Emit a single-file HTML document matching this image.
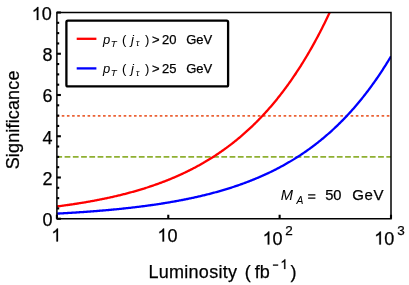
<!DOCTYPE html>
<html><head><meta charset="utf-8"><style>
html,body{margin:0;padding:0;background:#fff;}
body{width:409px;height:285px;overflow:hidden;}
svg{display:block;will-change:transform;}
text{font-family:"Liberation Sans",sans-serif;fill:#000;stroke:#000;stroke-width:0.25px;}
.i{font-style:italic;stroke-width:0.05px;}
.n{stroke-width:0.05px;}
</style></head><body>
<svg width="409" height="285" viewBox="0 0 409 285">
<defs><clipPath id="c"><rect x="56.9" y="12.5" width="334.1" height="206.25"/></clipPath></defs>
<rect width="409" height="285" fill="#fff"/>

<line x1="56.9" x2="391.0" y1="115.78" y2="115.78" stroke="#eb6235" stroke-width="1.8" stroke-dasharray="2.6,2.559" stroke-dashoffset="0.3"/>
<line x1="56.9" x2="391.0" y1="156.88" y2="156.88" stroke="#8fb032" stroke-width="1.9" stroke-dasharray="5.75,2.5" stroke-dashoffset="0.55"/>
<g clip-path="url(#c)" fill="none" stroke-width="2.3" stroke-linejoin="round">
<path d="M56.90,206.46 L57.74,206.35 L58.57,206.24 L59.41,206.13 L60.24,206.03 L61.08,205.92 L61.91,205.80 L62.75,205.69 L63.58,205.58 L64.42,205.46 L65.25,205.35 L66.09,205.23 L66.92,205.12 L67.76,205.00 L68.59,204.88 L69.43,204.76 L70.26,204.64 L71.10,204.51 L71.93,204.39 L72.77,204.27 L73.61,204.14 L74.44,204.01 L75.28,203.89 L76.11,203.76 L76.95,203.63 L77.78,203.50 L78.62,203.36 L79.45,203.23 L80.29,203.10 L81.12,202.96 L81.96,202.82 L82.79,202.68 L83.63,202.55 L84.46,202.40 L85.30,202.26 L86.13,202.12 L86.97,201.98 L87.80,201.83 L88.64,201.68 L89.47,201.54 L90.31,201.39 L91.15,201.24 L91.98,201.08 L92.82,200.93 L93.65,200.78 L94.49,200.62 L95.32,200.46 L96.16,200.30 L96.99,200.14 L97.83,199.98 L98.66,199.82 L99.50,199.66 L100.33,199.49 L101.17,199.32 L102.00,199.16 L102.84,198.99 L103.67,198.81 L104.51,198.64 L105.34,198.47 L106.18,198.29 L107.02,198.11 L107.85,197.93 L108.69,197.75 L109.52,197.57 L110.36,197.39 L111.19,197.20 L112.03,197.02 L112.86,196.83 L113.70,196.64 L114.53,196.45 L115.37,196.25 L116.20,196.06 L117.04,195.86 L117.87,195.66 L118.71,195.46 L119.54,195.26 L120.38,195.06 L121.21,194.85 L122.05,194.64 L122.88,194.43 L123.72,194.22 L124.56,194.01 L125.39,193.80 L126.23,193.58 L127.06,193.36 L127.90,193.14 L128.73,192.92 L129.57,192.70 L130.40,192.47 L131.24,192.24 L132.07,192.01 L132.91,191.78 L133.74,191.55 L134.58,191.31 L135.41,191.07 L136.25,190.83 L137.08,190.59 L137.92,190.35 L138.75,190.10 L139.59,189.85 L140.43,189.60 L141.26,189.35 L142.10,189.09 L142.93,188.83 L143.77,188.58 L144.60,188.31 L145.44,188.05 L146.27,187.78 L147.11,187.52 L147.94,187.24 L148.78,186.97 L149.61,186.70 L150.45,186.42 L151.28,186.14 L152.12,185.85 L152.95,185.57 L153.79,185.28 L154.62,184.99 L155.46,184.70 L156.29,184.40 L157.13,184.11 L157.97,183.80 L158.80,183.50 L159.64,183.20 L160.47,182.89 L161.31,182.58 L162.14,182.26 L162.98,181.95 L163.81,181.63 L164.65,181.31 L165.48,180.98 L166.32,180.65 L167.15,180.32 L167.99,179.99 L168.82,179.65 L169.66,179.31 L170.49,178.97 L171.33,178.63 L172.16,178.28 L173.00,177.93 L173.84,177.57 L174.67,177.22 L175.51,176.86 L176.34,176.49 L177.18,176.13 L178.01,175.76 L178.85,175.38 L179.68,175.01 L180.52,174.63 L181.35,174.25 L182.19,173.86 L183.02,173.47 L183.86,173.08 L184.69,172.68 L185.53,172.28 L186.36,171.88 L187.20,171.47 L188.03,171.06 L188.87,170.65 L189.70,170.23 L190.54,169.81 L191.38,169.39 L192.21,168.96 L193.05,168.53 L193.88,168.09 L194.72,167.65 L195.55,167.21 L196.39,166.76 L197.22,166.31 L198.06,165.86 L198.89,165.40 L199.73,164.94 L200.56,164.47 L201.40,164.00 L202.23,163.52 L203.07,163.05 L203.90,162.56 L204.74,162.08 L205.57,161.58 L206.41,161.09 L207.25,160.59 L208.08,160.08 L208.92,159.57 L209.75,159.06 L210.59,158.54 L211.42,158.02 L212.26,157.50 L213.09,156.96 L213.93,156.43 L214.76,155.89 L215.60,155.34 L216.43,154.79 L217.27,154.24 L218.10,153.68 L218.94,153.11 L219.77,152.55 L220.61,151.97 L221.44,151.39 L222.28,150.81 L223.11,150.22 L223.95,149.62 L224.79,149.02 L225.62,148.42 L226.46,147.81 L227.29,147.19 L228.13,146.57 L228.96,145.95 L229.80,145.32 L230.63,144.68 L231.47,144.04 L232.30,143.39 L233.14,142.74 L233.97,142.08 L234.81,141.41 L235.64,140.74 L236.48,140.07 L237.31,139.38 L238.15,138.69 L238.98,138.00 L239.82,137.30 L240.66,136.59 L241.49,135.88 L242.33,135.16 L243.16,134.44 L244.00,133.71 L244.83,132.97 L245.67,132.23 L246.50,131.47 L247.34,130.72 L248.17,129.95 L249.01,129.18 L249.84,128.41 L250.68,127.62 L251.51,126.83 L252.35,126.04 L253.18,125.23 L254.02,124.42 L254.85,123.60 L255.69,122.78 L256.52,121.95 L257.36,121.11 L258.20,120.26 L259.03,119.41 L259.87,118.54 L260.70,117.68 L261.54,116.80 L262.37,115.92 L263.21,115.02 L264.04,114.12 L264.88,113.22 L265.71,112.30 L266.55,111.38 L267.38,110.45 L268.22,109.51 L269.05,108.56 L269.89,107.60 L270.72,106.64 L271.56,105.67 L272.39,104.69 L273.23,103.70 L274.06,102.70 L274.90,101.69 L275.74,100.68 L276.57,99.66 L277.41,98.62 L278.24,97.58 L279.08,96.53 L279.91,95.47 L280.75,94.40 L281.58,93.32 L282.42,92.24 L283.25,91.14 L284.09,90.03 L284.92,88.92 L285.76,87.79 L286.59,86.65 L287.43,85.51 L288.26,84.35 L289.10,83.19 L289.93,82.01 L290.77,80.83 L291.61,79.63 L292.44,78.42 L293.28,77.21 L294.11,75.98 L294.95,74.74 L295.78,73.49 L296.62,72.23 L297.45,70.96 L298.29,69.68 L299.12,68.39 L299.96,67.08 L300.79,65.77 L301.63,64.44 L302.46,63.10 L303.30,61.75 L304.13,60.39 L304.97,59.02 L305.80,57.63 L306.64,56.24 L307.48,54.83 L308.31,53.41 L309.15,51.97 L309.98,50.53 L310.82,49.07 L311.65,47.59 L312.49,46.11 L313.32,44.61 L314.16,43.10 L314.99,41.58 L315.83,40.04 L316.66,38.49 L317.50,36.93 L318.33,35.35 L319.17,33.76 L320.00,32.16 L320.84,30.54 L321.67,28.91 L322.51,27.26 L323.34,25.60 L324.18,23.93 L325.02,22.24 L325.85,20.53 L326.69,18.81 L327.52,17.08 L328.36,15.33 L329.19,13.57 L330.03,11.79 L330.86,9.99 L331.70,8.18 L332.53,6.36 L333.37,4.52 L334.20,2.66 L335.04,0.78 L335.87,-1.11" stroke="#ff0000"/>
<path d="M56.90,213.61 L57.74,213.57 L58.57,213.52 L59.41,213.48 L60.24,213.43 L61.08,213.39 L61.91,213.34 L62.75,213.29 L63.58,213.25 L64.42,213.20 L65.25,213.15 L66.09,213.10 L66.92,213.05 L67.76,213.00 L68.59,212.95 L69.43,212.90 L70.26,212.85 L71.10,212.80 L71.93,212.75 L72.77,212.70 L73.61,212.65 L74.44,212.59 L75.28,212.54 L76.11,212.49 L76.95,212.43 L77.78,212.38 L78.62,212.32 L79.45,212.27 L80.29,212.21 L81.12,212.15 L81.96,212.10 L82.79,212.04 L83.63,211.98 L84.46,211.92 L85.30,211.86 L86.13,211.80 L86.97,211.74 L87.80,211.68 L88.64,211.62 L89.47,211.56 L90.31,211.50 L91.15,211.43 L91.98,211.37 L92.82,211.31 L93.65,211.24 L94.49,211.18 L95.32,211.11 L96.16,211.04 L96.99,210.98 L97.83,210.91 L98.66,210.84 L99.50,210.77 L100.33,210.70 L101.17,210.63 L102.00,210.56 L102.84,210.49 L103.67,210.42 L104.51,210.35 L105.34,210.28 L106.18,210.20 L107.02,210.13 L107.85,210.05 L108.69,209.98 L109.52,209.90 L110.36,209.83 L111.19,209.75 L112.03,209.67 L112.86,209.59 L113.70,209.51 L114.53,209.43 L115.37,209.35 L116.20,209.27 L117.04,209.19 L117.87,209.10 L118.71,209.02 L119.54,208.94 L120.38,208.85 L121.21,208.77 L122.05,208.68 L122.88,208.59 L123.72,208.50 L124.56,208.41 L125.39,208.32 L126.23,208.23 L127.06,208.14 L127.90,208.05 L128.73,207.96 L129.57,207.86 L130.40,207.77 L131.24,207.68 L132.07,207.58 L132.91,207.48 L133.74,207.38 L134.58,207.29 L135.41,207.19 L136.25,207.09 L137.08,206.98 L137.92,206.88 L138.75,206.78 L139.59,206.68 L140.43,206.57 L141.26,206.47 L142.10,206.36 L142.93,206.25 L143.77,206.14 L144.60,206.03 L145.44,205.92 L146.27,205.81 L147.11,205.70 L147.94,205.59 L148.78,205.47 L149.61,205.36 L150.45,205.24 L151.28,205.12 L152.12,205.01 L152.95,204.89 L153.79,204.77 L154.62,204.65 L155.46,204.52 L156.29,204.40 L157.13,204.28 L157.97,204.15 L158.80,204.02 L159.64,203.90 L160.47,203.77 L161.31,203.64 L162.14,203.51 L162.98,203.37 L163.81,203.24 L164.65,203.11 L165.48,202.97 L166.32,202.83 L167.15,202.70 L167.99,202.56 L168.82,202.42 L169.66,202.27 L170.49,202.13 L171.33,201.99 L172.16,201.84 L173.00,201.70 L173.84,201.55 L174.67,201.40 L175.51,201.25 L176.34,201.10 L177.18,200.94 L178.01,200.79 L178.85,200.63 L179.68,200.48 L180.52,200.32 L181.35,200.16 L182.19,200.00 L183.02,199.83 L183.86,199.67 L184.69,199.50 L185.53,199.34 L186.36,199.17 L187.20,199.00 L188.03,198.83 L188.87,198.65 L189.70,198.48 L190.54,198.30 L191.38,198.13 L192.21,197.95 L193.05,197.77 L193.88,197.59 L194.72,197.40 L195.55,197.22 L196.39,197.03 L197.22,196.84 L198.06,196.65 L198.89,196.46 L199.73,196.27 L200.56,196.07 L201.40,195.88 L202.23,195.68 L203.07,195.48 L203.90,195.28 L204.74,195.07 L205.57,194.87 L206.41,194.66 L207.25,194.45 L208.08,194.24 L208.92,194.03 L209.75,193.81 L210.59,193.60 L211.42,193.38 L212.26,193.16 L213.09,192.94 L213.93,192.71 L214.76,192.49 L215.60,192.26 L216.43,192.03 L217.27,191.80 L218.10,191.56 L218.94,191.33 L219.77,191.09 L220.61,190.85 L221.44,190.61 L222.28,190.36 L223.11,190.12 L223.95,189.87 L224.79,189.62 L225.62,189.37 L226.46,189.11 L227.29,188.86 L228.13,188.60 L228.96,188.33 L229.80,188.07 L230.63,187.80 L231.47,187.54 L232.30,187.27 L233.14,186.99 L233.97,186.72 L234.81,186.44 L235.64,186.16 L236.48,185.88 L237.31,185.59 L238.15,185.30 L238.98,185.01 L239.82,184.72 L240.66,184.43 L241.49,184.13 L242.33,183.83 L243.16,183.53 L244.00,183.22 L244.83,182.91 L245.67,182.60 L246.50,182.29 L247.34,181.97 L248.17,181.65 L249.01,181.33 L249.84,181.01 L250.68,180.68 L251.51,180.35 L252.35,180.02 L253.18,179.68 L254.02,179.34 L254.85,179.00 L255.69,178.65 L256.52,178.31 L257.36,177.96 L258.20,177.60 L259.03,177.25 L259.87,176.89 L260.70,176.52 L261.54,176.16 L262.37,175.79 L263.21,175.41 L264.04,175.04 L264.88,174.66 L265.71,174.28 L266.55,173.89 L267.38,173.50 L268.22,173.11 L269.05,172.71 L269.89,172.32 L270.72,171.91 L271.56,171.51 L272.39,171.10 L273.23,170.68 L274.06,170.27 L274.90,169.85 L275.74,169.42 L276.57,168.99 L277.41,168.56 L278.24,168.13 L279.08,167.69 L279.91,167.25 L280.75,166.80 L281.58,166.35 L282.42,165.89 L283.25,165.44 L284.09,164.97 L284.92,164.51 L285.76,164.04 L286.59,163.56 L287.43,163.08 L288.26,162.60 L289.10,162.11 L289.93,161.62 L290.77,161.13 L291.61,160.63 L292.44,160.12 L293.28,159.62 L294.11,159.10 L294.95,158.59 L295.78,158.06 L296.62,157.54 L297.45,157.01 L298.29,156.47 L299.12,155.93 L299.96,155.39 L300.79,154.84 L301.63,154.28 L302.46,153.72 L303.30,153.16 L304.13,152.59 L304.97,152.02 L305.80,151.44 L306.64,150.85 L307.48,150.27 L308.31,149.67 L309.15,149.07 L309.98,148.47 L310.82,147.86 L311.65,147.24 L312.49,146.62 L313.32,146.00 L314.16,145.37 L314.99,144.73 L315.83,144.09 L316.66,143.44 L317.50,142.79 L318.33,142.13 L319.17,141.47 L320.00,140.80 L320.84,140.12 L321.67,139.44 L322.51,138.75 L323.34,138.06 L324.18,137.36 L325.02,136.65 L325.85,135.94 L326.69,135.22 L327.52,134.50 L328.36,133.76 L329.19,133.03 L330.03,132.28 L330.86,131.53 L331.70,130.78 L332.53,130.02 L333.37,129.25 L334.20,128.47 L335.04,127.69 L335.87,126.90 L336.71,126.10 L337.54,125.30 L338.38,124.49 L339.21,123.67 L340.05,122.84 L340.88,122.01 L341.72,121.17 L342.56,120.33 L343.39,119.47 L344.23,118.61 L345.06,117.74 L345.90,116.87 L346.73,115.99 L347.57,115.09 L348.40,114.20 L349.24,113.29 L350.07,112.37 L350.91,111.45 L351.74,110.52 L352.58,109.58 L353.41,108.64 L354.25,107.68 L355.08,106.72 L355.92,105.75 L356.75,104.77 L357.59,103.78 L358.43,102.78 L359.26,101.77 L360.10,100.76 L360.93,99.74 L361.77,98.71 L362.60,97.66 L363.44,96.61 L364.27,95.55 L365.11,94.49 L365.94,93.41 L366.78,92.32 L367.61,91.23 L368.45,90.12 L369.28,89.00 L370.12,87.88 L370.95,86.74 L371.79,85.60 L372.62,84.44 L373.46,83.28 L374.30,82.11 L375.13,80.92 L375.97,79.72 L376.80,78.52 L377.64,77.30 L378.47,76.08 L379.31,74.84 L380.14,73.59 L380.98,72.33 L381.81,71.06 L382.65,69.78 L383.48,68.49 L384.32,67.19 L385.15,65.87 L385.99,64.55 L386.82,63.21 L387.66,61.86 L388.49,60.50 L389.33,59.13 L390.16,57.74 L391.00,56.35" stroke="#0000ff"/>
</g>
<rect x="56.9" y="12.5" width="334.1" height="206.25" fill="none" stroke="#000" stroke-width="1.5"/>
<line x1="56.9" x2="60.9" y1="218.75" y2="218.75" stroke="#000" stroke-width="2.1"/>
<text x="52.5" y="226.15" font-size="18" text-anchor="end">0</text>
<line x1="56.9" x2="59.199999999999996" y1="208.44" y2="208.44" stroke="#000" stroke-width="2.1"/>
<line x1="56.9" x2="59.199999999999996" y1="198.12" y2="198.12" stroke="#000" stroke-width="2.1"/>
<line x1="56.9" x2="59.199999999999996" y1="187.81" y2="187.81" stroke="#000" stroke-width="2.1"/>
<line x1="56.9" x2="60.9" y1="177.50" y2="177.50" stroke="#000" stroke-width="2.1"/>
<text x="52.5" y="184.90" font-size="18" text-anchor="end">2</text>
<line x1="56.9" x2="59.199999999999996" y1="167.19" y2="167.19" stroke="#000" stroke-width="2.1"/>
<line x1="56.9" x2="59.199999999999996" y1="156.88" y2="156.88" stroke="#000" stroke-width="2.1"/>
<line x1="56.9" x2="59.199999999999996" y1="146.56" y2="146.56" stroke="#000" stroke-width="2.1"/>
<line x1="56.9" x2="60.9" y1="136.25" y2="136.25" stroke="#000" stroke-width="2.1"/>
<text x="52.5" y="143.65" font-size="18" text-anchor="end">4</text>
<line x1="56.9" x2="59.199999999999996" y1="125.94" y2="125.94" stroke="#000" stroke-width="2.1"/>
<line x1="56.9" x2="59.199999999999996" y1="115.62" y2="115.62" stroke="#000" stroke-width="2.1"/>
<line x1="56.9" x2="59.199999999999996" y1="105.31" y2="105.31" stroke="#000" stroke-width="2.1"/>
<line x1="56.9" x2="60.9" y1="95.00" y2="95.00" stroke="#000" stroke-width="2.1"/>
<text x="52.5" y="102.40" font-size="18" text-anchor="end">6</text>
<line x1="56.9" x2="59.199999999999996" y1="84.69" y2="84.69" stroke="#000" stroke-width="2.1"/>
<line x1="56.9" x2="59.199999999999996" y1="74.38" y2="74.38" stroke="#000" stroke-width="2.1"/>
<line x1="56.9" x2="59.199999999999996" y1="64.06" y2="64.06" stroke="#000" stroke-width="2.1"/>
<line x1="56.9" x2="60.9" y1="53.75" y2="53.75" stroke="#000" stroke-width="2.1"/>
<text x="52.5" y="61.15" font-size="18" text-anchor="end">8</text>
<line x1="56.9" x2="59.199999999999996" y1="43.44" y2="43.44" stroke="#000" stroke-width="2.1"/>
<line x1="56.9" x2="59.199999999999996" y1="33.12" y2="33.12" stroke="#000" stroke-width="2.1"/>
<line x1="56.9" x2="59.199999999999996" y1="22.81" y2="22.81" stroke="#000" stroke-width="2.1"/>
<line x1="56.9" x2="60.9" y1="12.50" y2="12.50" stroke="#000" stroke-width="2.1"/>
<path transform="translate(31.68,19.90) scale(0.008789,-0.008789)" d="M763 0H583V1147Q518 1085 412.5 1023T223 930V1104Q373 1175 486 1276T645 1472H763Z" fill="#000" stroke="#000" stroke-width="28.4"/><text x="41.69" y="19.9" font-size="18">0</text>
<line x1="56.90" x2="56.90" y1="218.75" y2="214.75" stroke="#000" stroke-width="2.1"/>
<line x1="168.27" x2="168.27" y1="218.75" y2="214.75" stroke="#000" stroke-width="2.1"/>
<line x1="279.63" x2="279.63" y1="218.75" y2="214.75" stroke="#000" stroke-width="2.1"/>
<line x1="391.00" x2="391.00" y1="218.75" y2="214.75" stroke="#000" stroke-width="2.1"/>
<path transform="translate(51.30,241.40) scale(0.008789,-0.008789)" d="M763 0H583V1147Q518 1085 412.5 1023T223 930V1104Q373 1175 486 1276T645 1472H763Z" fill="#000" stroke="#000" stroke-width="28.4"/>
<path transform="translate(157.39,241.50) scale(0.008789,-0.008789)" d="M763 0H583V1147Q518 1085 412.5 1023T223 930V1104Q373 1175 486 1276T645 1472H763Z" fill="#000" stroke="#000" stroke-width="28.4"/><text x="167.40" y="241.5" font-size="18">0</text>
<path transform="translate(262.60,244.50) scale(0.008789,-0.008789)" d="M763 0H583V1147Q518 1085 412.5 1023T223 930V1104Q373 1175 486 1276T645 1472H763Z" fill="#000" stroke="#000" stroke-width="28.4"/><text x="272.61" y="244.5" font-size="18">0</text><text x="285.3" y="235" font-size="13.5">2</text>
<path transform="translate(374.20,244.50) scale(0.008789,-0.008789)" d="M763 0H583V1147Q518 1085 412.5 1023T223 930V1104Q373 1175 486 1276T645 1472H763Z" fill="#000" stroke="#000" stroke-width="28.4"/><text x="384.21" y="244.5" font-size="18">0</text><text x="397.3" y="235" font-size="13.5">3</text>
<text x="148.6" y="278.1" font-size="18" letter-spacing="0.25">Luminosity</text>
<text x="244.7" y="278.1" font-size="18">(</text>
<text x="254.8" y="278.1" font-size="18">fb</text>
<line x1="272.9" x2="278.2" y1="265.1" y2="265.1" stroke="#000" stroke-width="1.3"/>
<path transform="translate(280.30,269.00) scale(0.006592,-0.006592)" d="M763 0H583V1147Q518 1085 412.5 1023T223 930V1104Q373 1175 486 1276T645 1472H763Z" fill="#000" stroke="#000" stroke-width="37.9"/>
<text x="290.4" y="278.1" font-size="18">)</text>
<text transform="translate(18.8,169.3) rotate(-90)" font-size="18" letter-spacing="0.15">Significance</text>
<rect x="66.4" y="20.7" width="161.7" height="65.7" fill="#fff" stroke="#000" stroke-width="2.3" rx="1.5"/>
<line x1="76.7" x2="96.4" y1="38.8" y2="38.8" stroke="#ff0000" stroke-width="2.3"/>
<line x1="76.7" x2="96.4" y1="68.4" y2="68.4" stroke="#0000ff" stroke-width="2.3"/>
<text class="i" x="102.9" y="43.5" font-size="13">p</text>
<text class="i" x="110.7" y="46.8" font-size="9.7">T</text>
<text class="n" x="122.1" y="43.5" font-size="13">(</text>
<text class="i" x="130.9" y="43.5" font-size="13">j</text>
<text class="i" x="136.0" y="46.3" font-size="8.6">τ</text>
<text class="n" x="145.1" y="43.5" font-size="13">)</text>
<text x="152.0" y="43.5" font-size="13">&gt;</text>
<text x="162.0" y="43.5" font-size="13">20</text>
<text x="186.2" y="43.5" font-size="13">GeV</text>
<text class="i" x="102.9" y="73.1" font-size="13">p</text>
<text class="i" x="110.7" y="76.39999999999999" font-size="9.7">T</text>
<text class="n" x="122.1" y="73.1" font-size="13">(</text>
<text class="i" x="130.9" y="73.1" font-size="13">j</text>
<text class="i" x="136.0" y="75.89999999999999" font-size="8.6">τ</text>
<text class="n" x="145.1" y="73.1" font-size="13">)</text>
<text x="152.0" y="73.1" font-size="13">&gt;</text>
<text x="162.0" y="73.1" font-size="13">25</text>
<text x="186.2" y="73.1" font-size="13">GeV</text>
<text class="i" x="280.8" y="200.4" font-size="14.7">M</text>
<text class="i" x="296.6" y="203.8" font-size="10.3">A</text>
<path d="M308.1 194.8H315.4M308.1 198.1H315.4" stroke="#000" stroke-width="1.25" fill="none"/>
<text x="325.2" y="200.4" font-size="14.7">50</text>
<text x="352.3" y="200.4" font-size="15" letter-spacing="0.6">GeV</text>
</svg></body></html>
